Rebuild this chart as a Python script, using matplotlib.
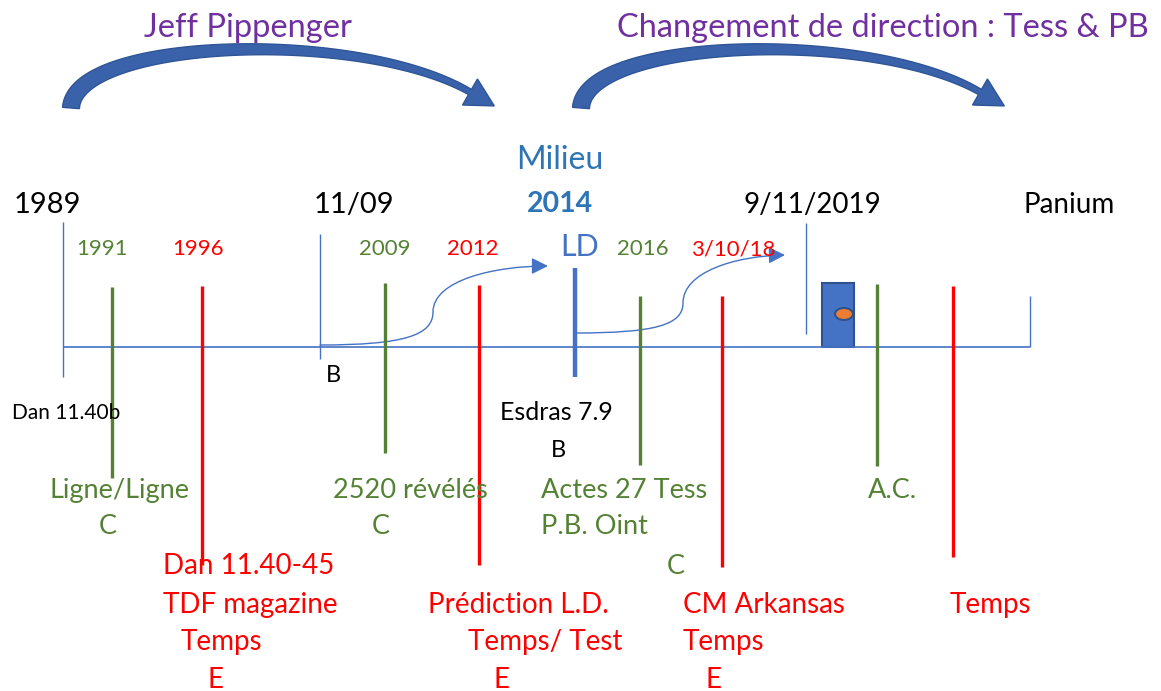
import matplotlib
matplotlib.use("Agg")
import numpy as np
import matplotlib.pyplot as plt
from matplotlib.path import Path
from matplotlib.patches import FancyArrowPatch, Rectangle, Ellipse, Polygon

plt.rcParams['font.family'] = ['Lato', 'DejaVu Sans']

# canvas is laid out in pixel units (x right, y down)
BLUE = "#4472C4"
GREEN = "#548235"
RED = "#FF0000"
PURPLE = "#7030A0"
TITLE_BLUE = "#2E75B6"

# main period markers (thin blue ticks)
period_x = [63, 320, 806, 1030]
period_top = [222, 234, 223, 296]
period_bottom = [377, 359, 334, 347]
period_labels = ["1989", "11/09", "9/11/2019", "Panium"]
period_label_x = [47, 354, 812, 1069]
period_label_size = [21, 21, 20, 20]

# green events (C)
green_x = [112, 385, 640, 877]
green_top = [287, 283, 296, 284]
green_bottom = [478, 453, 465, 466]
green_years = ["1991", "2009", "2016", ""]
green_year_x = [102, 385, 643, 0]

# red events (E)
red_x = [202, 479, 722, 953]
red_top = [286, 285, 296, 286]
red_bottom = [565, 565, 567, 557]
red_years = ["1996", "2012", "3/10/18", ""]
red_year_x = [198, 473, 733, 0]

# labels under the timeline: (text, x, y, ha)
green_notes = [("Ligne/Ligne", 50, 490, "left"), ("C", 108, 527, "center"),
               ("2520 révélés", 333, 490, "left"), ("C", 381, 527, "center"),
               ("Actes 27 Tess", 541, 490, "left"), ("P.B. Oint", 541, 527, "left"),
               ("C", 676, 566, "center"), ("A.C.", 868, 490, "left")]
red_notes = [("Dan 11.40-45", 163, 566, "left"), ("TDF magazine", 163, 605, "left"),
             ("Temps", 181, 642, "left"), ("E", 215, 680, "center"),
             ("Prédiction L.D.", 428, 605, "left"), ("Temps/ Test", 468, 642, "left"),
             ("E", 502, 680, "center"),
             ("CM Arkansas", 683, 605, "left"), ("Temps", 683, 642, "left"),
             ("E", 714, 680, "center"), ("Temps", 950, 605, "left")]
black_notes = [("B", 326, 375, 17), ("Dan 11.40b", 12, 413, 15),
               ("Esdras 7.9", 500, 412, 18), ("B", 551, 450, 17)]


def big_arrow(ax, dx):
    # tapered curved arrow drawn as a filled polygon
    P = np.array([[71, 108], [75, 38], [360, 28], [470, 92]], float)
    P[:, 0] += dx
    t = np.linspace(0, 1, 200)[:, None]
    B = ((1 - t) ** 3) * P[0] + 3 * ((1 - t) ** 2) * t * P[1] \
        + 3 * (1 - t) * t ** 2 * P[2] + t ** 3 * P[3]
    d = np.gradient(B, axis=0)
    d /= np.linalg.norm(d, axis=1)[:, None]
    n = np.column_stack([-d[:, 1], d[:, 0]])
    w = (17 - 11 * t[:, 0]) / 2
    left = B + n * w[:, None]
    right = B - n * w[:, None]
    e = d[-1]
    ne = np.array([-e[1], e[0]])
    tip = B[-1] + e * 28
    head = [B[-1] + ne * 15, tip, B[-1] - ne * 15]
    pts = np.vstack([left, head, right[::-1]])
    ax.add_patch(Polygon(pts, closed=True, facecolor="#3A62AA", edgecolor="#2F5597",
                         lw=1.0, clip_on=False))


fig = plt.figure(figsize=(11.61, 6.91), dpi=100)
ax = fig.add_axes([0, 0, 1, 1])
ax.set_xlim(0, 1161)
ax.set_ylim(691, 0)
ax.axis("off")

# baseline
ax.hlines(347, 63, 1030, color=BLUE, lw=1.2)
ax.vlines(period_x, period_top, period_bottom, color=BLUE, lw=1.0)
ax.vlines(green_x, green_top, green_bottom, color=GREEN, lw=2.4)
ax.vlines(red_x, red_top, red_bottom, color=RED, lw=2.4)
ax.vlines(575, 268, 377, color=BLUE, lw=3.2)

for lab, x, s in zip(period_labels, period_label_x, period_label_size):
    ax.text(x, 205, lab, ha="center", va="center", fontsize=s, color="black")
for lab, x in zip(green_years, green_year_x):
    if lab:
        ax.text(x, 249, lab, ha="center", va="center", fontsize=16, color=GREEN)
for lab, x in zip(red_years, red_year_x):
    if lab:
        ax.text(x, 249, lab, ha="center", va="center", fontsize=16, color=RED)

ax.text(560, 160, "Milieu", ha="center", va="center", fontsize=23, color=TITLE_BLUE)
ax.text(560, 204, "2014", ha="center", va="center", fontsize=20.5, color=TITLE_BLUE,
        fontweight="bold")
ax.text(580, 247, "LD", ha="center", va="center", fontsize=22, color=BLUE)

for lab, x, y, ha in green_notes:
    ax.text(x, y, lab, ha=ha, va="center", fontsize=19.5, color=GREEN)
for lab, x, y, ha in red_notes:
    ax.text(x, y, lab, ha=ha, va="center", fontsize=20, color=RED)
for lab, x, y, s in black_notes:
    ax.text(x, y, lab, ha="left", va="center", fontsize=s, color="black")

# box with the orange dot
ax.add_patch(Rectangle((822, 283), 32, 64, facecolor=BLUE, edgecolor="#2F528F", lw=1.5))
ax.add_patch(Ellipse((844, 314), 18, 12, facecolor="#ED7D31", edgecolor="#2F528F", lw=1.5))

# small S-shaped arrows
for p in [[(320, 345), (405, 345), (433, 335), (433, 312),
           (433, 280), (495, 266), (548, 266)],
          [(575, 333), (655, 333), (683, 325), (683, 303),
           (683, 272), (735, 256), (785, 255)]]:
    codes = [Path.MOVETO] + [Path.CURVE4] * 6
    path = Path(p, codes)
    ax.add_patch(FancyArrowPatch(path=path, arrowstyle="-|>,head_length=10,head_width=5",
                                 color=BLUE, lw=1.0))

big_arrow(ax, 0)
big_arrow(ax, 510)

ax.text(248, 28, "Jeff Pippenger", ha="center", va="center", fontsize=23.5, color=PURPLE)
ax.text(883, 28, "Changement de direction : Tess & PB", ha="center", va="center",
        fontsize=23.5, color=PURPLE)

fig.savefig("out.png", dpi=100)
